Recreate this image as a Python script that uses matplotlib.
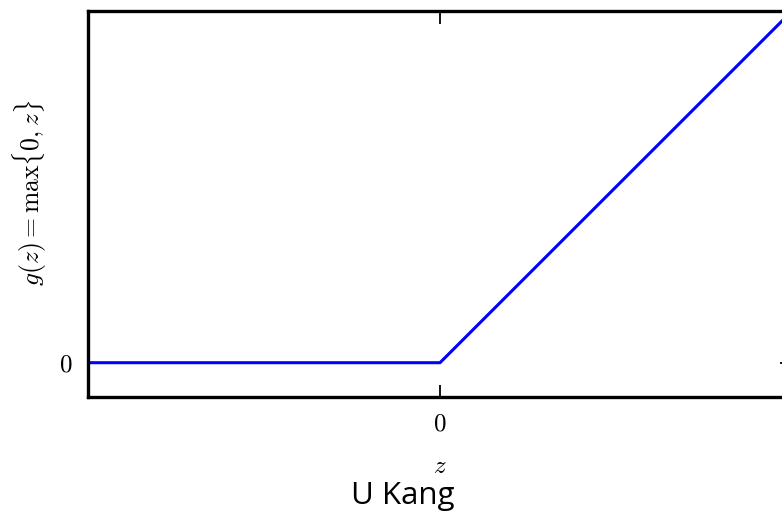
import matplotlib
matplotlib.use("Agg")
import matplotlib.pyplot as plt

# ReLU data
z_vals = [-2.0, 0.0, 2.0]
g_vals = [0.0, 0.0, 2.0]
x_ticks = [0]
y_ticks = [0]

plt.rcParams["mathtext.fontset"] = "cm"
plt.rcParams["font.family"] = "DejaVu Serif"

fig = plt.figure(figsize=(7.82, 5.14), dpi=100)
ax = fig.add_axes([88 / 782, 117 / 514, 704 / 782, 386 / 514])

ax.plot(z_vals, g_vals, color="#0000ff", lw=2.2)
ax.set_xlim(-2, 2)
ax.set_ylim(-0.195, 2)

for s in ax.spines.values():
    s.set_linewidth(2.4)

ax.set_xticks(x_ticks)
ax.set_yticks(y_ticks)
ax.set_xticklabels([r"$0$"])
ax.set_yticklabels([r"$0$"])
ax.tick_params(direction="in", length=9, width=1.3, top=True, right=True,
               labelsize=18, pad=11)

ax.set_xlabel(r"$z$", fontsize=18, labelpad=14)
ax.set_ylabel(r"$g(z) = \max\{0, z\}$", fontsize=18.5)
ax.yaxis.set_label_coords(-0.056, 0.53)

fig.text(403 / 782, 18 / 514, "U Kang", ha="center", va="center",
         fontsize=22.5, family="Open Sans")

fig.savefig("out.png", dpi=100)
